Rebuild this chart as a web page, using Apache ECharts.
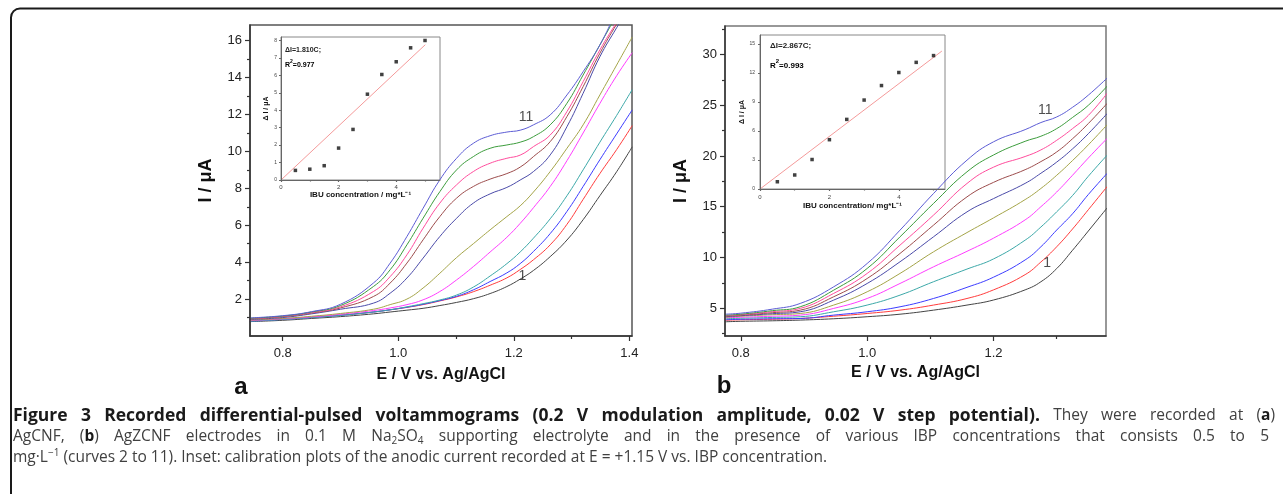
<!DOCTYPE html>
<html><head><meta charset="utf-8">
<script src="https://cdn.jsdelivr.net/npm/echarts@6/dist/echarts.min.js"></script>
<style>html,body{margin:0;padding:0;background:#fff}#c{width:1283px;height:494px}</style>
</head><body><div id="c"></div><script>
// ---------- DATA ----------
// Panel a: potential grid (V) and currents (µA) of curves 1..11
const eA  = [0.743,0.8,0.85,0.9,0.957,0.986,1.015,1.043,1.072,1.101,1.13,1.159,1.188,1.211,1.234,1.263,1.292,1.32,1.349,1.378,1.405];
const a1  = [0.78,0.85,0.95,1.05,1.2,1.3,1.4,1.5,1.65,1.82,2.02,2.3,2.68,3.08,3.55,4.3,5.2,6.3,7.6,8.9,10.25];
const a2  = [0.82,0.92,1.02,1.13,1.3,1.42,1.55,1.7,1.9,2.12,2.4,2.75,3.15,3.6,4.13,4.94,6.05,7.4,8.8,10.1,11.4];
const a3  = [0.8,0.9,1.0,1.12,1.3,1.42,1.56,1.72,1.92,2.15,2.5,2.95,3.42,3.92,4.58,5.55,6.75,8.1,9.55,10.95,12.25];
const a4  = [0.8,0.9,1.0,1.12,1.3,1.42,1.58,1.75,1.95,2.22,2.65,3.25,3.92,4.55,5.3,6.35,7.6,9.0,10.5,11.95,13.35];
const a5  = [0.84,0.93,1.04,1.18,1.38,1.52,1.7,1.96,2.41,3.04,3.76,4.55,5.35,6.1,6.95,8.1,9.5,11.0,12.6,14.1,15.35];
const a6  = [0.86,0.95,1.07,1.22,1.45,1.7,2.0,2.6,3.4,4.25,5.0,5.75,6.47,7.05,7.8,8.91,10.17,11.44,13.06,14.68,16.2];
const a7  = [0.9,1.0,1.2,1.45,1.78,2.32,3.14,4.22,5.39,6.38,7.2,7.7,8.05,8.45,8.91,9.81,11.34,13.15,15.13,16.7,18.1];
const a8  = [0.92,1.04,1.24,1.52,2.14,2.87,3.95,5.21,6.47,7.47,8.1,8.5,8.8,9.15,9.72,10.53,11.89,13.51,15.32,16.9,18.3];
const a9  = [0.94,1.06,1.27,1.58,2.41,3.22,4.4,5.84,7.2,8.19,8.91,9.36,9.63,9.8,10.26,10.89,12.16,13.78,15.5,17.0,18.4];
const a10 = [0.96,1.08,1.3,1.65,2.68,3.59,4.94,6.38,7.82,9.0,9.72,10.17,10.35,10.5,10.8,11.44,12.61,14.14,15.77,17.4,19.0];
const a11 = [0.98,1.1,1.32,1.72,2.87,3.95,5.39,6.92,8.46,9.63,10.44,10.85,11.05,11.15,11.44,11.98,13.06,14.32,15.77,17.6,19.2];

// Panel b
const eB  = [0.775,0.8,0.85,0.894,0.947,1.0,1.052,1.105,1.158,1.2,1.25,1.275,1.3,1.325,1.35,1.38];
const b1  = [3.65,3.7,3.75,3.82,3.95,4.15,4.4,4.8,5.3,5.8,6.8,7.6,8.9,10.7,12.6,14.9];
const b2  = [3.8,3.85,3.9,3.98,4.2,4.47,4.8,5.3,5.95,6.8,8.3,9.55,11.05,12.8,14.7,17.0];
const b3  = [3.85,3.9,3.95,3.98,4.31,4.64,5.13,5.95,7.05,8.05,9.75,11.05,12.7,14.3,16.2,18.3];
const b4  = [3.95,4.0,4.08,4.15,4.64,5.3,6.28,7.6,8.85,9.85,11.7,13.0,14.5,16.1,18.0,20.1];
const b5  = [4.05,4.1,4.2,4.31,4.97,5.95,7.43,9.07,10.6,11.9,13.7,15.0,16.45,18.1,19.8,21.75];
const b6  = [4.1,4.2,4.35,4.47,5.3,6.61,8.42,10.55,12.45,13.9,15.7,16.8,18.1,19.55,21.1,23.1];
const b7  = [4.15,4.25,4.45,4.64,5.79,7.43,9.57,12.03,14.49,15.8,17.3,18.3,19.4,20.7,22.2,24.2];
const b8  = [4.2,4.3,4.55,4.8,6.12,7.92,10.39,13.18,15.97,17.4,18.65,19.45,20.4,21.7,23.2,25.2];
const b9  = [4.25,4.35,4.65,4.97,6.45,8.42,11.21,14.17,17.29,18.9,19.95,20.6,21.55,22.7,24.0,26.2];
const b10 = [4.3,4.4,4.75,5.13,6.77,8.91,12.03,15.32,18.44,20.1,21.45,21.95,22.7,23.8,25.0,26.9];
const b11 = [4.4,4.5,4.9,5.46,7.1,9.4,12.69,16.3,19.59,21.4,22.6,23.3,23.85,24.8,26.0,27.7];

// Insets: calibration plots
const conc   = [0.5,1,1.5,2,2.5,3,3.5,4,4.5,5];
const dIA    = [0.55,0.62,0.82,1.83,2.9,4.92,6.05,6.78,7.58,8.0];
const dIB    = [0.75,1.45,3.05,5.1,7.2,9.2,10.7,12.05,13.1,13.8];
const fitAx  = [0,5.01], fitAy = [0,7.76];
const fitBx  = [0,5.24], fitBy = [0,14.27];

// Ticks
const xMajA = [0.8,1.0,1.2,1.4], xMinA = [0.9,1.1,1.3];
const yMajA = [2,4,6,8,10,12,14,16], yMinA = [1,3,5,7,9,11,13,15];
const xMajB = [0.8,1.0,1.2], xMinB = [0.9,1.1,1.3];
const yMajB = [5,10,15,20,25,30], yMinB = [2.5,7.5,12.5,17.5,22.5,27.5,32.5];
const xMajI = [0,2,4], xMinI = [1,3,5];
const yMajIA = [0,1,2,3,4,5,6,7,8];
const yMajIB = [0,3,6,9,12,15];

// Curve labels (value coordinates)
const lblA = [{t:'11', e:1.221, i:11.85}, {t:'1', e:1.215, i:3.25}];
const lblB = [{t:'11', e:1.282, i:24.5}, {t:'1', e:1.285, i:9.45}];

// Caption text runs (style key, text)
const cap1 = [['b','Figure 3 Recorded differential-pulsed voltammograms (0.2 V modulation amplitude, 0.02 V step potential).'],['r',' They were recorded at ('],['bb','a'],['r',')']];
const cap2 = [['r','AgCNF, ('],['bb','b'],['r',') AgZCNF electrodes in 0.1 M Na'],['sub','2'],['r','SO'],['sub','4'],['r',' supporting electrolyte and in the presence of various IBP concentrations that consists 0.5 to 5']];
const cap3 = [['r','mg·L'],['sup','−1'],['r',' (curves 2 to 11). Inset: calibration plots of the anodic current recorded at E = +1.15 V vs. IBP concentration.']];

const colors = ['#444444','#ff3c3c','#3c3cff','#3ca8a8','#ff3cff','#a4a448','#4a4aa8','#9c4c4c','#ff4c9c','#3c9c3c','#5c5cd4'];
const curvesA = [a1,a2,a3,a4,a5,a6,a7,a8,a9,a10,a11];
const curvesB = [b1,b2,b3,b4,b5,b6,b7,b8,b9,b10,b11];

// ---------- CHART ----------
const FONT = 'Liberation Sans, Arial, sans-serif';
const chart = echarts.init(document.getElementById('c'), null, {renderer:'canvas'});

function axMajor(dim, grid, min, max, ticks, fmt, o) {
  o = o || {};
  return {
    type:'value', gridIndex:grid, min:min, max:max, position: dim==='x'?'bottom':'left',
    splitLine:{show:false},
    axisLine:{show:true, onZero:false, lineStyle:{color:o.lineColor||'#333', width:o.lineWidth||1.5}},
    axisTick:{show:true, customValues:ticks, length:o.tickLen||5, lineStyle:{color:o.lineColor||'#333', width:o.tickWidth||1.2}},
    axisLabel:{show:true, customValues:ticks, formatter:fmt, color:o.labelColor||'#222', fontSize:o.fontSize||13,
               fontFamily:FONT, margin:o.margin||9},
    name:o.name||'', nameLocation:'middle', nameGap:o.nameGap||30,
    nameTextStyle:{fontFamily:FONT, fontWeight:'bold', fontSize:o.nameSize||16, color:'#111'},
    z: 5
  };
}
function axMinor(dim, grid, min, max, ticks, o) {
  o = o || {};
  return {
    type:'value', gridIndex:grid, min:min, max:max, position: dim==='x'?'bottom':'left', offset:0,
    splitLine:{show:false}, axisLine:{show:false, onZero:false},
    axisTick:{show:true, customValues:ticks, length:o.tickLen||3, lineStyle:{color:o.lineColor||'#333', width:1.2}},
    axisLabel:{show:false}, z:5
  };
}
const f1 = v => v.toFixed(1);
const f0 = v => String(v);

const grids = [
  {left:250, top:25, width:382, height:311, show:true, borderColor:'#555', borderWidth:1.5},   // a main
  {left:281, top:37, width:159, height:143, show:true, borderColor:'#888', borderWidth:1},     // a inset
  {left:725, top:26, width:381, height:310, show:true, borderColor:'#777', borderWidth:1.5},   // b main
  {left:760, top:35, width:185, height:154, show:true, borderColor:'#888', borderWidth:1}      // b inset
];

const xAxes = [
  axMajor('x',0,0.7434,1.4046,xMajA,f1,{name:'E / V vs. Ag/AgCl', nameGap:31, nameSize:16, margin:11}),
  axMinor('x',0,0.7434,1.4046,xMinA),
  axMajor('x',1,0,5.52,xMajI,f0,{fontSize:6, tickLen:2, margin:4, lineColor:'#666', lineWidth:1, labelColor:'#444',
        name:'IBU concentration / mg*L⁻¹', nameGap:11, nameSize:8}),
  axMinor('x',1,0,5.52,xMinI,{tickLen:1.5, lineColor:'#666'}),
  axMajor('x',2,0.775,1.378,xMajB,f1,{name:'E / V vs. Ag/AgCl', nameGap:27, nameSize:16, margin:11}),
  axMinor('x',2,0.775,1.378,xMinB),
  axMajor('x',3,0,5.33,xMajI,f0,{fontSize:6, tickLen:2, margin:5, lineColor:'#666', lineWidth:1, labelColor:'#444',
        name:'IBU concentration/ mg*L⁻¹', nameGap:13, nameSize:8}),
  axMinor('x',3,0,5.33,xMinI,{tickLen:1.5, lineColor:'#666'})
];
const yAxes = [
  axMajor('y',0,0,16.85,yMajA,f0,{name:'I / μA', nameGap:35, nameSize:18, margin:8}),
  axMinor('y',0,0,16.85,yMinA),
  axMajor('y',1,0,8.2,yMajIA,f0,{fontSize:5, tickLen:2, margin:4, lineColor:'#666', lineWidth:1, labelColor:'#444',
        name:'Δ I / μA', nameGap:11, nameSize:7}),
  axMajor('y',2,2.25,32.82,yMajB,f0,{name:'I / μA', nameGap:35, nameSize:18, margin:8}),
  axMinor('y',2,2.25,32.82,yMinB),
  axMajor('y',3,0,15.93,yMajIB,f0,{fontSize:5, tickLen:2, margin:5, lineColor:'#666', lineWidth:1, labelColor:'#444',
        name:'Δ I / μA', nameGap:14, nameSize:7})
];

const series = [];
curvesA.forEach((c,k)=>series.push({type:'line', xAxisIndex:0, yAxisIndex:0, smooth:0.45, symbol:'none', clip:true,
  data:eA.map((e,j)=>[e,c[j]]), lineStyle:{width:1, color:colors[k]}, z:2}));
curvesB.forEach((c,k)=>series.push({type:'line', xAxisIndex:4, yAxisIndex:3, smooth:0.45, symbol:'none', clip:true,
  data:eB.map((e,j)=>[e,c[j]]), lineStyle:{width:1, color:colors[k]}, z:2}));
function labelSeries(lbls, xi, yi){
  return {type:'scatter', xAxisIndex:xi, yAxisIndex:yi, symbolSize:0, z:6,
    data:lbls.map(l=>({value:[l.e,l.i], label:{show:true, formatter:l.t, position:'inside',
      fontFamily:FONT, fontSize:14, color:'#222'}}))};
}
series.push(labelSeries(lblA,0,0));
series.push(labelSeries(lblB,4,3));
series.push({type:'line', xAxisIndex:2, yAxisIndex:2, symbol:'none', data:fitAx.map((x,j)=>[x,fitAy[j]]),
  lineStyle:{width:1, color:'#f49a9a'}, z:3});
series.push({type:'scatter', xAxisIndex:2, yAxisIndex:2, symbol:'rect', symbolSize:3.5, data:conc.map((x,j)=>[x,dIA[j]]),
  itemStyle:{color:'#111'}, z:4});
series.push({type:'line', xAxisIndex:6, yAxisIndex:5, symbol:'none', data:fitBx.map((x,j)=>[x,fitBy[j]]),
  lineStyle:{width:1, color:'#f49a9a'}, z:3});
series.push({type:'scatter', xAxisIndex:6, yAxisIndex:5, symbol:'rect', symbolSize:3.5, data:conc.map((x,j)=>[x,dIB[j]]),
  itemStyle:{color:'#111'}, z:4});

// ---------- caption layout (justified lines) ----------
const CF = '"Open Sans", "Noto Sans", sans-serif';
const capStyle = {
  r:  {font:'15.5px '+CF, fill:'#404040', dy:0},
  b:  {font:'bold 17.5px '+CF, fill:'#1a1a1a', dy:0},
  bb: {font:'bold 15.5px '+CF, fill:'#1a1a1a', dy:0},
  sub:{font:'10px '+CF, fill:'#404040', dy:4},
  sup:{font:'10px '+CF, fill:'#404040', dy:-5}
};
const mctx = document.createElement('canvas').getContext('2d');
function tw(font,t){ mctx.font = font; return mctx.measureText(t).width; }
function layoutLine(runs, y, justify, left, right){
  const words=[[]];
  runs.forEach(([s,t])=>{
    t.split(' ').forEach((p,i)=>{ if(i>0) words.push([]); if(p) words[words.length-1].push([s,p]); });
  });
  const ws = words.filter(w=>w.length);
  const widths = ws.map(w=>w.reduce((a,[s,t])=>a+tw(capStyle[s].font,t),0));
  const total = widths.reduce((a,b)=>a+b,0);
  const gap = justify ? (right-left-total)/(ws.length-1) : tw(capStyle.r.font,' ');
  const els=[]; let x=left;
  ws.forEach((w,i)=>{
    let xx=x;
    w.forEach(([s,t])=>{
      const st=capStyle[s];
      els.push({type:'text', x:xx, y:y+st.dy, silent:true,
        style:{text:t, font:st.font, fill:st.fill, textVerticalAlign:'middle'}});
      xx+=tw(st.font,t);
    });
    x+=widths[i]+gap;
  });
  return els;
}

const small = {fontFamily:FONT, fontWeight:'bold', fontSize:7, color:'#222'};
let graphic = [
  {type:'rect', shape:{x:11, y:8.5, width:1300, height:520, r:[9,0,0,0]}, style:{fill:'none', stroke:'#1a1a1a', lineWidth:2}, z:0, silent:true},
  {type:'text', x:241, y:387, style:{text:'a', font:'bold 24px Liberation Sans, Arial', fill:'#111', textAlign:'center', textVerticalAlign:'middle'}},
  {type:'text', x:724, y:386, style:{text:'b', font:'bold 24px Liberation Sans, Arial', fill:'#111', textAlign:'center', textVerticalAlign:'middle'}},
  {type:'text', x:285, y:50, style:{text:'ΔI=1.810C;', font:'bold 7px Liberation Sans, Arial', fill:'#222', textVerticalAlign:'middle'}},
  {type:'text', x:285, y:64, style:{text:'{n|R}{s|2}{n|=0.977}', textVerticalAlign:'middle',
     rich:{n:Object.assign({},small,{lineHeight:10, verticalAlign:'bottom'}), s:Object.assign({},small,{fontSize:5, lineHeight:10, verticalAlign:'top'})}}},
  {type:'text', x:770, y:46, style:{text:'ΔI=2.867C;', font:'bold 8px Liberation Sans, Arial', fill:'#222', textVerticalAlign:'middle'}},
  {type:'text', x:770, y:64, style:{text:'{n|R}{s|2}{n|=0.993}', textVerticalAlign:'middle',
     rich:{n:Object.assign({},small,{fontSize:8, lineHeight:12, verticalAlign:'bottom'}), s:Object.assign({},small,{fontSize:6, lineHeight:12, verticalAlign:'top'})}}}
];
graphic = graphic.concat(layoutLine(cap1, 416, true, 13, 1275))
                 .concat(layoutLine(cap2, 437, true, 13, 1269))
                 .concat(layoutLine(cap3, 458, false, 13, 1269));

chart.setOption({animation:false, backgroundColor:'#fff', grid:grids, xAxis:xAxes, yAxis:yAxes, series:series, graphic:graphic});
</script></body></html>
